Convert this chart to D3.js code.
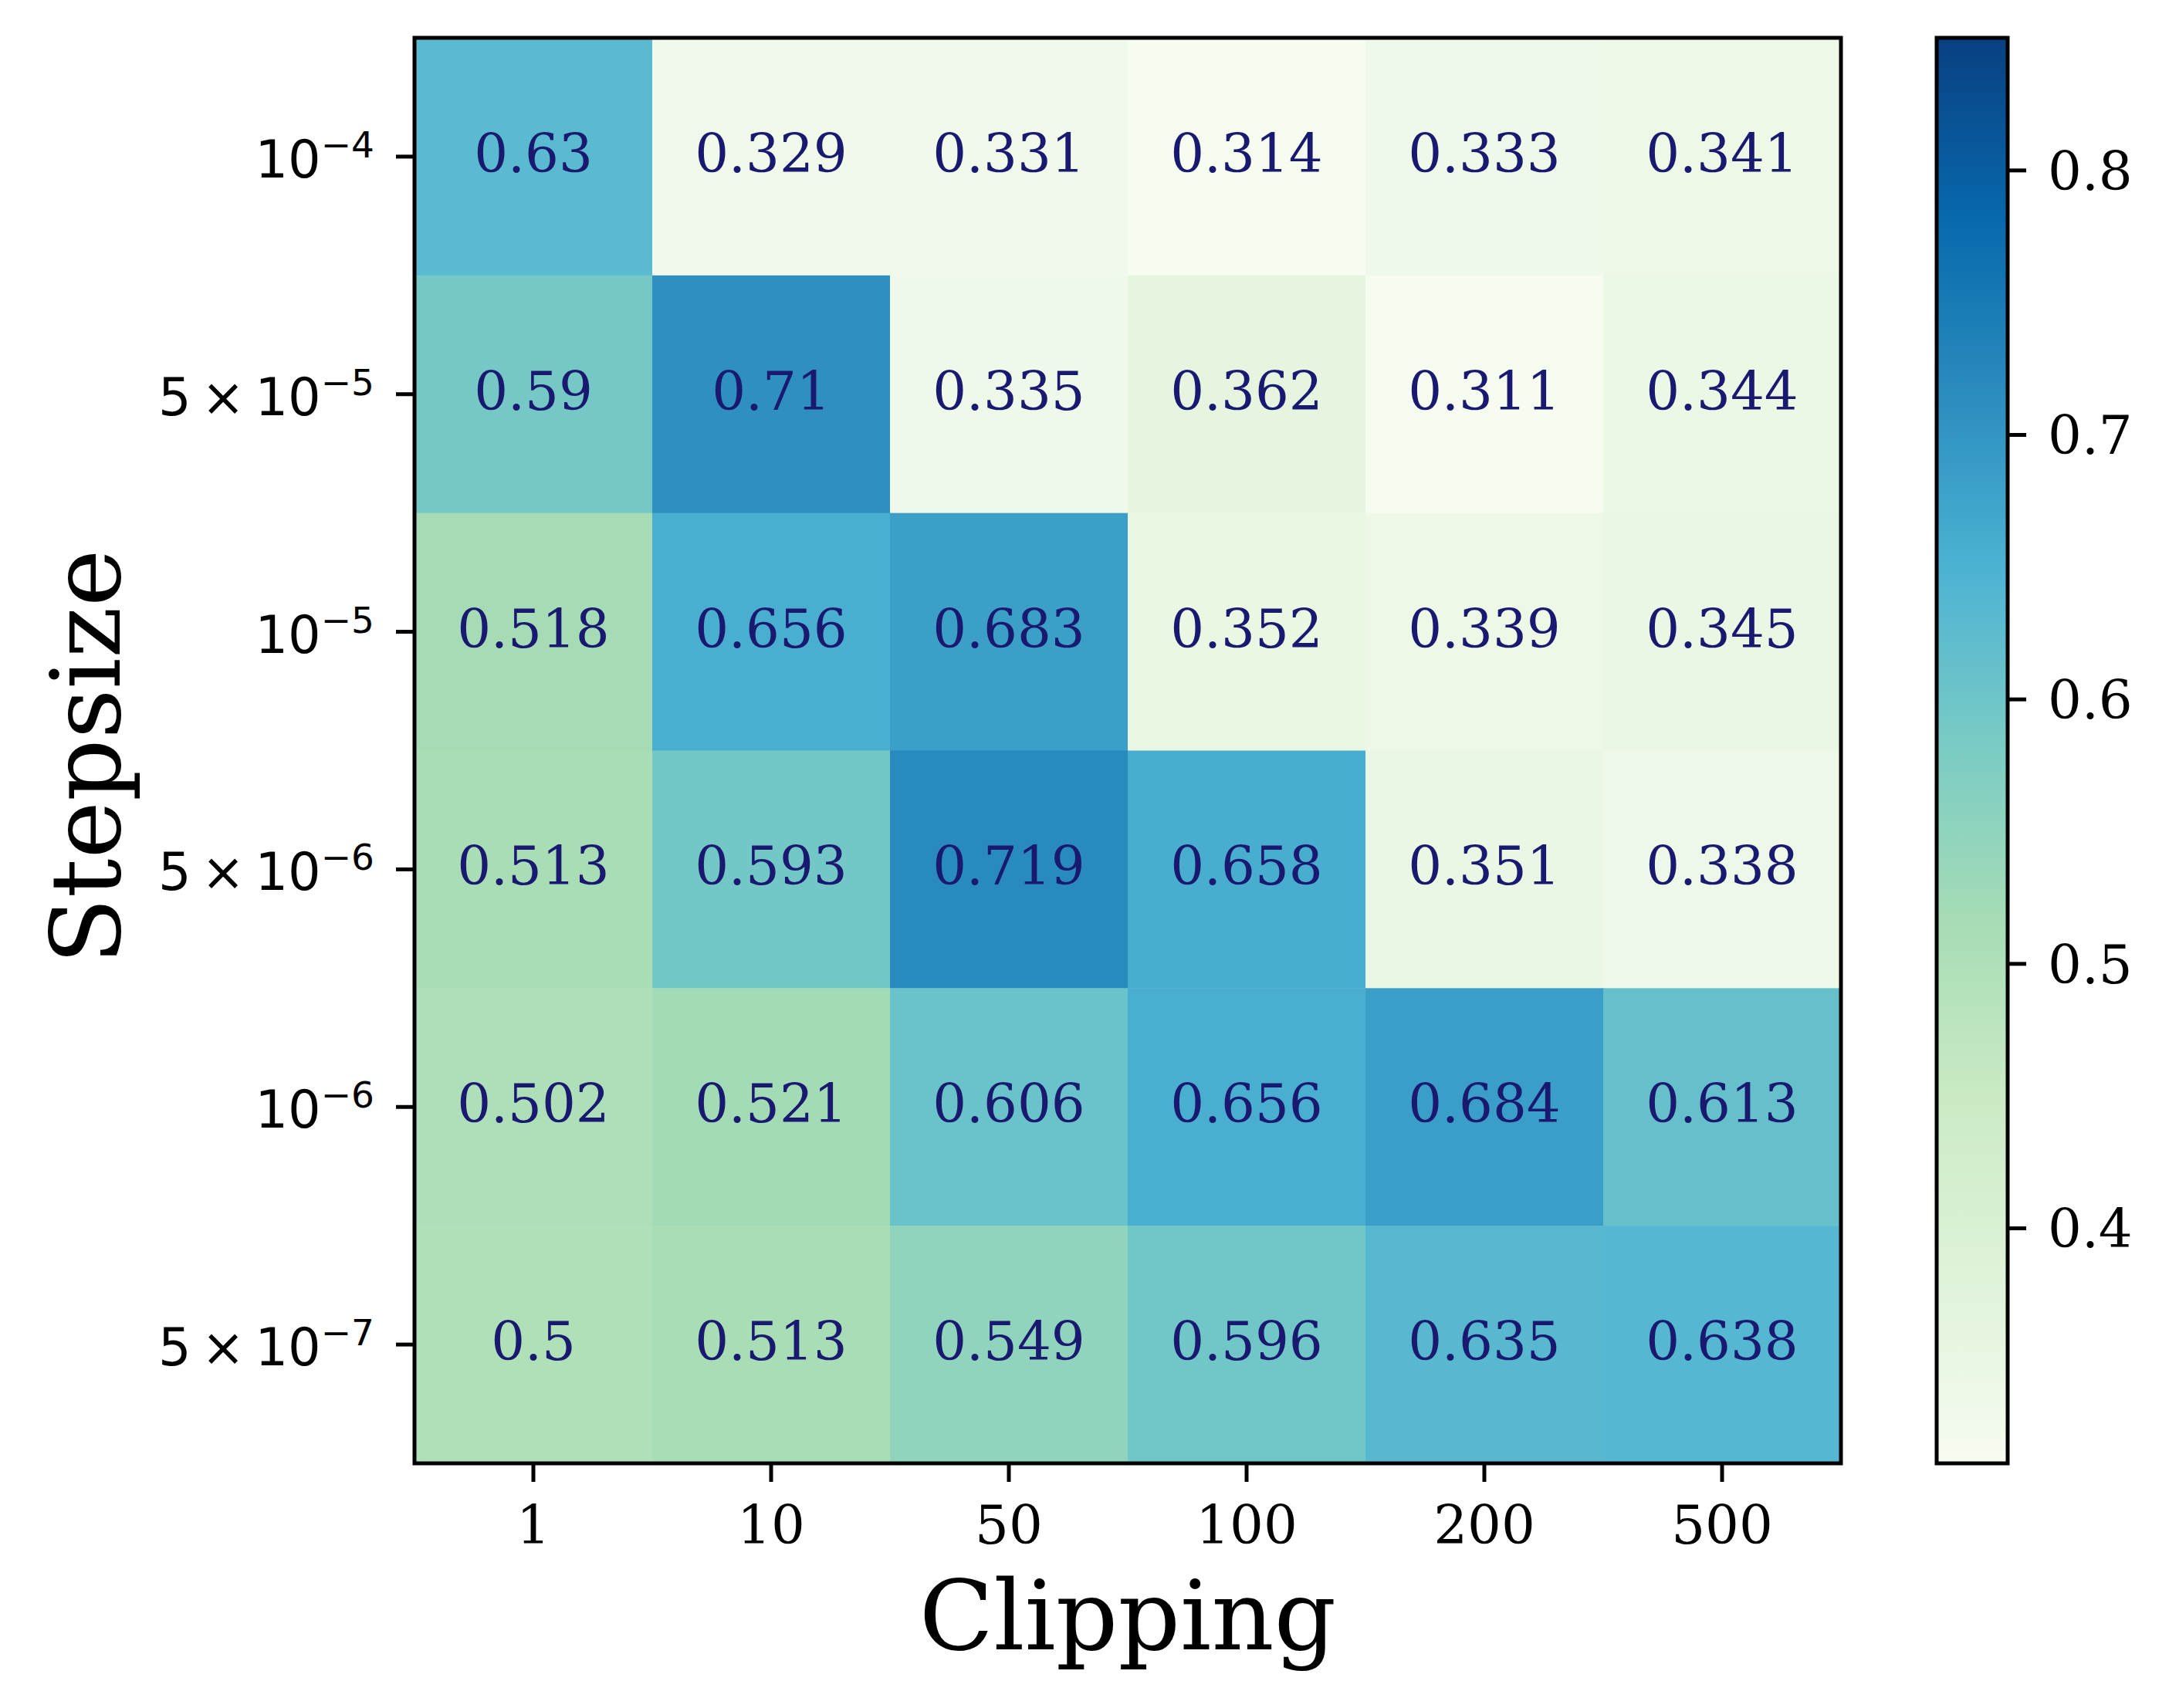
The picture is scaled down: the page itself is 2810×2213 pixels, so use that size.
<!DOCTYPE html>
<html>
<head>
<meta charset="utf-8">
<script src="https://cdn.jsdelivr.net/npm/d3@7"></script>
<style>
  body { margin: 0; background: #fff; }
  svg { display: block; }
</style>
</head>
<body>
<svg id="chart"></svg>
<script>
// values, rows top to bottom
const clipping = ["1", "10", "50", "100", "200", "500"];
const stepsizes = [
    {mant: null, exp: "\u22124"},
    {mant: "5", exp: "\u22125"},
    {mant: null, exp: "\u22125"},
    {mant: "5", exp: "\u22126"},
    {mant: null, exp: "\u22126"},
    {mant: "5", exp: "\u22127"}
];
const row1e4 = [0.63, 0.329, 0.331, 0.314, 0.333, 0.341];
const row5e5 = [0.59, 0.71, 0.335, 0.362, 0.311, 0.344];
const row1e5 = [0.518, 0.656, 0.683, 0.352, 0.339, 0.345];
const row5e6 = [0.513, 0.593, 0.719, 0.658, 0.351, 0.338];
const row1e6 = [0.502, 0.521, 0.606, 0.656, 0.684, 0.613];
const row5e7 = [0.5, 0.513, 0.549, 0.596, 0.635, 0.638];
const rows = [row1e4, row5e5, row1e5, row5e6, row1e6, row5e7];
const colorbarTicks = [0.4, 0.5, 0.6, 0.7, 0.8];
const vmin = 0.311, vmax = 0.85;

const W = 2810, H = 2213;
const plot = {left: 537, top: 49, right: 2385, bottom: 1896};
const cbar = {left: 2509, right: 2601};
const serif = "'DejaVu Serif', serif";
const sans = "'DejaVu Sans', sans-serif";

const svg = d3.select("#chart").attr("width", W).attr("height", H);

//the heatmap cells
const cells = [];
rows.forEach((r, i) => r.forEach((v, j) => cells.push({row: i, col: j, v: v})));

const xScale = d3.scaleBand().domain(d3.range(clipping.length)).range([plot.left, plot.right]);
const yScale = d3.scaleBand().domain(d3.range(stepsizes.length)).range([plot.top, plot.bottom]);

// GnBu, piecewise linear through the 9 colorbrewer stops (like matplotlib)
const stops = d3.schemeGnBu[9];
const color = d3.scaleLinear()
    .domain(stops.map((c, i) => vmin + i * (vmax - vmin) / (stops.length - 1)))
    .range(stops)
    .clamp(true);

svg.append("g").selectAll("rect")
    .data(cells)
    .join("rect")
    .attr("x", d => xScale(d.col))
    .attr("y", d => yScale(d.row))
    .attr("width", xScale.bandwidth() + 0.5)
    .attr("height", yScale.bandwidth() + 0.5)
    .attr("fill", d => color(d.v));

svg.append("g").selectAll("text")
    .data(cells)
    .join("text")
    .attr("x", d => xScale(d.col) + xScale.bandwidth() / 2)
    .attr("y", d => yScale(d.row) + yScale.bandwidth() / 2 + 20)
    .attr("text-anchor", "middle")
    .attr("font-family", serif)
    .attr("font-size", 69)
    .attr("fill", "#191970")
    .text(d => String(d.v));

//x axis
const xAxis = svg.append("g")
    .attr("transform", "translate(0," + plot.bottom + ")")
    .call(d3.axisBottom(xScale).tickFormat(i => clipping[i]).tickSize(24).tickPadding(28));
xAxis.select(".domain").remove();
xAxis.selectAll(".tick line").attr("stroke", "#000").attr("stroke-width", 5);
xAxis.selectAll(".tick text")
    .attr("font-family", serif).attr("font-size", 69).attr("fill", "#000")
    .attr("dy", null).attr("y", 104);

//y axis, labels built by hand for the superscripts
const yAxis = svg.append("g")
    .attr("transform", "translate(" + plot.left + ",0)")
    .call(d3.axisLeft(yScale).tickSize(24).tickFormat(""));
yAxis.select(".domain").remove();
yAxis.selectAll(".tick line").attr("stroke", "#000").attr("stroke-width", 5);
yAxis.selectAll(".tick").each(function(i) {
    const s = stepsizes[i];
    const t = d3.select(this).append("text")
        .attr("x", -52)
        .attr("y", 27)
        .attr("text-anchor", "end")
        .attr("font-family", sans)
        .attr("font-size", 67)
        .attr("fill", "#000");
    t.append("tspan").text((s.mant ? s.mant + "\u2009\u00d7\u200910" : "10"));
    t.append("tspan").attr("font-size", 47).attr("dy", -26).text(s.exp);
});

//frame round the heatmap
svg.append("rect")
    .attr("x", plot.left).attr("y", plot.top)
    .attr("width", plot.right - plot.left).attr("height", plot.bottom - plot.top)
    .attr("fill", "none").attr("stroke", "#000").attr("stroke-width", 5);

//axis labels
svg.append("text")
    .attr("x", (plot.left + plot.right) / 2)
    .attr("y", 2137)
    .attr("text-anchor", "middle")
    .attr("font-family", serif)
    .attr("font-size", 126)
    .text("Clipping");

svg.append("text")
    .attr("transform", "translate(155," + ((plot.top + plot.bottom) / 2 + 8) + ") rotate(-90)")
    .attr("text-anchor", "middle")
    .attr("font-family", serif)
    .attr("font-size", 126)
    .text("Stepsize");

//colorbar
const cScale = d3.scaleLinear().domain([vmin, vmax]).range([plot.bottom, plot.top]);
const defs = svg.append("defs");
const grad = defs.append("linearGradient")
    .attr("id", "cbarGrad")
    .attr("x1", 0).attr("y1", 1).attr("x2", 0).attr("y2", 0);
grad.selectAll("stop")
    .data(color.domain())
    .join("stop")
    .attr("offset", d => (d - vmin) / (vmax - vmin))
    .attr("stop-color", d => color(d));

svg.append("rect")
    .attr("x", cbar.left).attr("y", plot.top)
    .attr("width", cbar.right - cbar.left).attr("height", plot.bottom - plot.top)
    .attr("fill", "url(#cbarGrad)")
    .attr("stroke", "#000").attr("stroke-width", 5);

const cAxis = svg.append("g")
    .attr("transform", "translate(" + cbar.right + ",0)")
    .call(d3.axisRight(cScale).tickValues(colorbarTicks).tickFormat(d3.format(".1f")).tickSize(24).tickPadding(28));
cAxis.select(".domain").remove();
cAxis.selectAll(".tick line").attr("stroke", "#000").attr("stroke-width", 5);
cAxis.selectAll(".tick text")
    .attr("font-family", serif).attr("font-size", 69).attr("fill", "#000")
    .attr("dy", "0.36em");
</script>
</body>
</html>
